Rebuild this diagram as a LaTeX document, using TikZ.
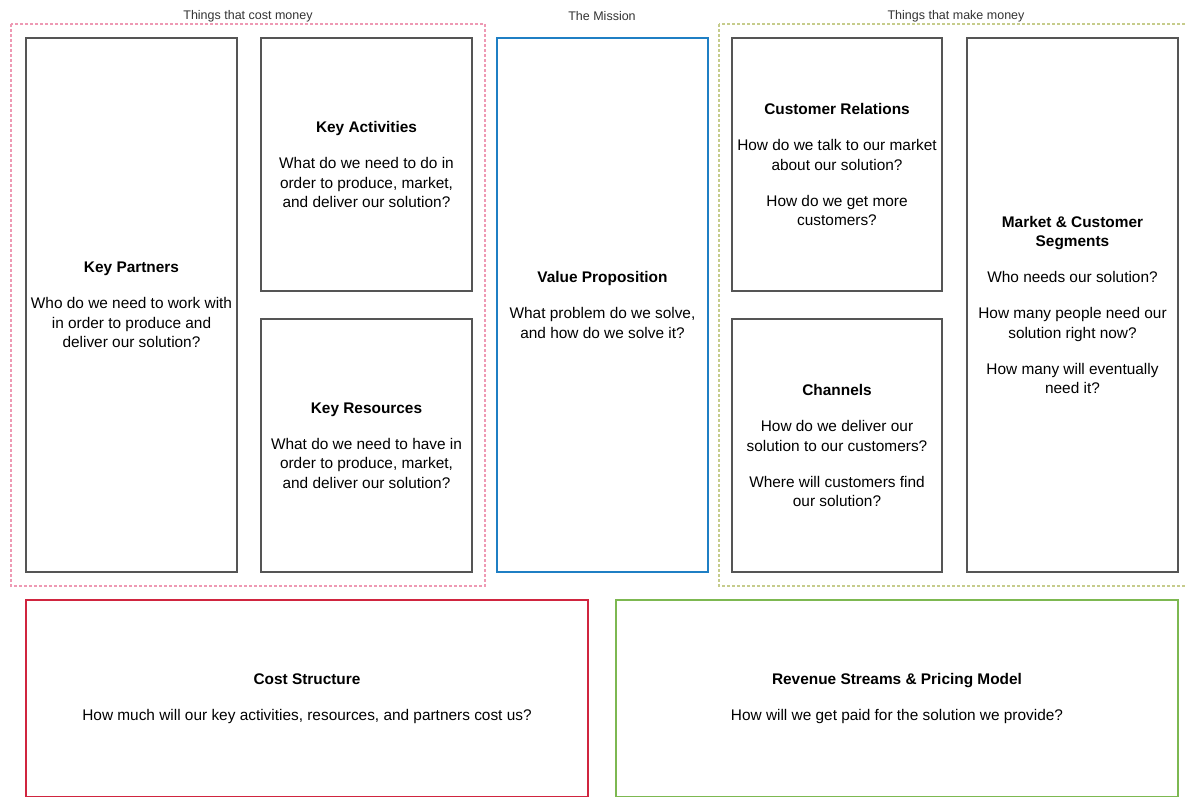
\documentclass[tikz,border=0pt]{standalone}
\usepackage{fontspec}
\setmainfont{Liberation Sans}
\definecolor{boxgray}{HTML}{555555}
\definecolor{vpblue}{HTML}{1F7FC4}
\definecolor{csred}{HTML}{D0253F}
\definecolor{rsgreen}{HTML}{7DB851}
\definecolor{grppink}{HTML}{EE9AB4}
\definecolor{grpgreen}{HTML}{C6CC8C}
\tikzset{
  cell/.style={draw=boxgray, line width=2pt, fill=white, align=center, inner sep=0pt,
    font=\fontsize{15.4}{19.5}\selectfont},
  cellh/.style={cell, minimum width=211pt, minimum height=253pt},
  cellv/.style={cell, minimum width=211pt, minimum height=534pt},
  grpbox/.style={line width=1.3pt, dash pattern=on 3pt off 2pt},
  grplabel/.style={font=\fontsize{12.5}{14}\selectfont, text=black!80, inner sep=0pt},
}
\newcommand\gp{\\[16.5pt]}
\begin{document}
\begin{tikzpicture}[x=1pt,y=-1pt]
\useasboundingbox (0,0) rectangle (1187,796);
\clip (0,0) rectangle (1187,796);
% groups
\draw[grpbox, draw=grppink] (11,24) rectangle (485,586);
\draw[grpbox, draw=grpgreen] (719,24) rectangle (1200,586);
\node[grplabel] (l1) at (248,16) {Things that cost money};
\node[grplabel] (l2) at (602,16) {The Mission};
\node[grplabel] (l3) at (956,16) {Things that make money};
% cells
\node[cellv] (kp) at (131.5,305) {\textbf{Key Partners}\gp Who do we need to work with\\in order to produce and\\deliver our solution?};
\node[cellh] (ka) at (366.5,164.5) {\textbf{Key Activities}\gp What do we need to do in\\order to produce, market,\\and deliver our solution?};
\node[cellh] (kr) at (366.5,445.5) {\textbf{Key Resources}\gp What do we need to have in\\order to produce, market,\\and deliver our solution?};
\node[cellv, draw=vpblue, line width=2.8pt] (vp) at (602.5,305) {\textbf{Value Proposition}\gp What problem do we solve,\\and how do we solve it?};
\node[cellh, minimum width=210pt] (cr) at (837,164.5) {\textbf{Customer Relations}\gp How do we talk to our market\\about our solution?\gp How do we get more\\customers?};
\node[cellh, minimum width=210pt] (ch) at (837,445.5) {\textbf{Channels}\gp How do we deliver our\\solution to our customers?\gp Where will customers find\\our solution?};
\node[cellv] (ms) at (1072.5,305) {\textbf{Market \& Customer}\\\textbf{Segments}\gp Who needs our solution?\gp How many people need our\\solution right now?\gp How many will eventually\\need it?};
\node[cell, draw=csred, line width=2.5pt, minimum width=562pt, minimum height=197pt] (cs) at (307,698.5) {\textbf{Cost Structure}\gp How much will our key activities, resources, and partners cost us?};
\node[cell, draw=rsgreen, line width=2.5pt, minimum width=562pt, minimum height=197pt] (rs) at (897,698.5) {\textbf{Revenue Streams \& Pricing Model}\gp How will we get paid for the solution we provide?};
\end{tikzpicture}
\end{document}
